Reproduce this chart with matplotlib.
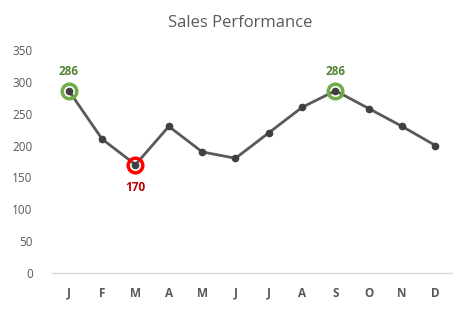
import matplotlib
matplotlib.use("Agg")
import matplotlib.pyplot as plt

months = ["J", "F", "M", "A", "M", "J", "J", "A", "S", "O", "N", "D"]
sales = [286, 210, 170, 230, 190, 180, 220, 260, 286, 258, 230, 200]
yticks = [0, 50, 100, 150, 200, 250, 300, 350]
title = "Sales Performance"

plt.rcParams['font.family'] = ['Open Sans', 'DejaVu Sans']

fig = plt.figure(figsize=(4.7, 3.12), dpi=100)
ax = fig.add_axes([0.111, 0.125, 0.851, 0.715])

x = list(range(len(months)))
ax.plot(x, sales, color="#595959", lw=2.0, marker="o", ms=4.5,
        mfc="#404040", mec="#404040", zorder=3)

mx = max(sales)
mn = min(sales)
for i, v in enumerate(sales):
    if v == mx:
        ax.plot(i, v, marker="o", ms=10.5, mfc="none", mec="#70AD47", mew=2.5, zorder=4)
        ax.annotate(str(v), (i, v), xytext=(0, 9), textcoords="offset points",
                    ha="center", va="bottom", color="#548235", fontsize=8.5,
                    fontweight="bold")
    elif v == mn:
        ax.plot(i, v, marker="o", ms=10.5, mfc="none", mec="#FF0000", mew=2.5, zorder=4)
        ax.annotate(str(v), (i, v), xytext=(0, -12), textcoords="offset points",
                    ha="center", va="top", color="#C00000", fontsize=8.5,
                    fontweight="bold")

ax.set_xlim(-0.5, len(months) - 0.5)
ax.set_ylim(0, 350)
ax.set_xticks(x)
ax.set_xticklabels(months, fontweight="bold")
ax.set_yticks(yticks)
ax.tick_params(axis="both", length=0, labelsize=8.5, colors="#595959")
ax.tick_params(axis="x", pad=10)
ax.tick_params(axis="y", pad=14)
for s in ["top", "right", "left"]:
    ax.spines[s].set_visible(False)
ax.spines["bottom"].set_color("#D9D9D9")
ax.spines["bottom"].set_linewidth(1.0)

fig.suptitle(title, x=0.511, y=0.952, fontsize=12, color="#595959", va="top")

fig.savefig("out.png", dpi=100)
